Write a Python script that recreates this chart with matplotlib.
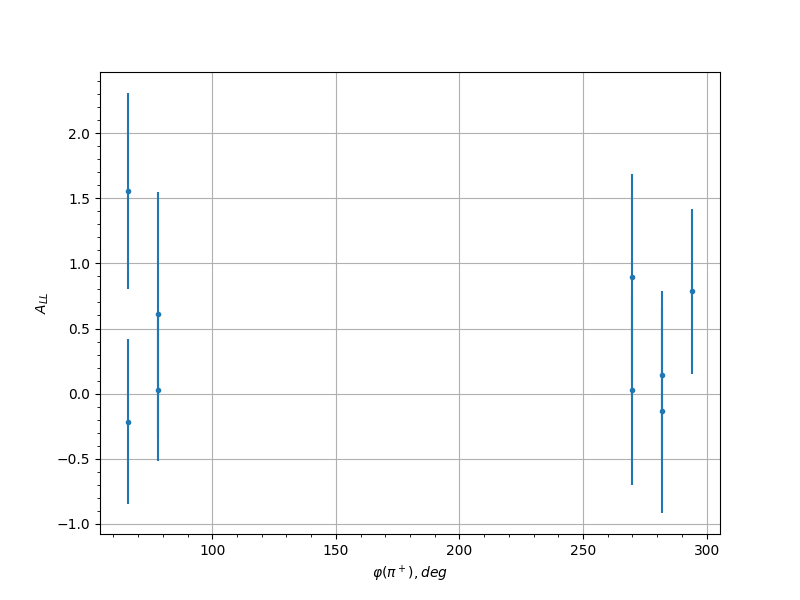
import matplotlib
matplotlib.use('Agg')
import matplotlib.pyplot as plt

# Данные: угол pi+ и асимметрия A_LL с ошибками
phi = [66, 66, 78, 78, 270, 270, 282, 282, 294]
a_ll = [1.555, -0.215, 0.608, 0.03, 0.892, 0.028, 0.144, -0.131, 0.785]
a_err = [0.755, 0.635, 0.94, 0.548, 0.793, 0.728, 0.641, 0.787, 0.635]

plt.figure(figsize=(8, 6), dpi=100)
plt.errorbar(phi, a_ll, yerr=a_err, fmt='.')
plt.xlabel(r'$\varphi(\pi^+), deg$')
plt.ylabel(r'$A_{LL}$')
plt.minorticks_on()
plt.grid(True)

plt.savefig("out.png")
